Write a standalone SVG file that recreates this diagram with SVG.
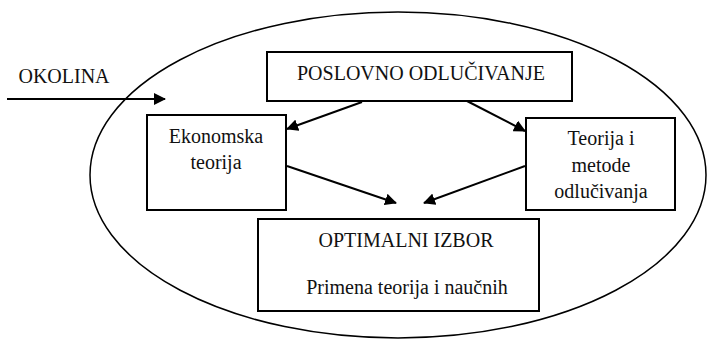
<svg xmlns="http://www.w3.org/2000/svg" width="715" height="341" viewBox="0 0 715 341">
<style>
.t{font-size:20px;fill:#111;text-anchor:middle}
.box{fill:#fff;stroke:#000;stroke-width:2}
.con{stroke:#000;stroke-width:2;fill:none;marker-end:url(#ah)}
</style>
<defs>
<marker id="ah" markerWidth="12" markerHeight="12" refX="11" refY="6" orient="auto" markerUnits="userSpaceOnUse">
<path d="M0,0 L12,6 L0,12 Z" fill="#000"/>
</marker>
</defs>
<rect width="715" height="341" fill="#fff"/>
<g font-family="Liberation Serif, Times New Roman, DejaVu Serif, serif">
<g id="okolina">
<ellipse cx="398" cy="175" rx="308" ry="163" fill="none" stroke="#000" stroke-width="1.5"/>
<text class="t" x="64" y="83">OKOLINA</text>
</g>
<g id="poslovno">
<rect class="box" x="267" y="52" width="305" height="49"/>
<text class="t" x="421" y="80">POSLOVNO ODLUČIVANJE</text>
</g>
<g id="ekonomska">
<rect class="box" x="147" y="115" width="139" height="95"/>
<text class="t" x="216" y="143">Ekonomska</text>
<text class="t" x="216" y="169">teorija</text>
</g>
<g id="teorija">
<rect class="box" x="526" y="118" width="149" height="92"/>
<text class="t" x="601" y="145">Teorija i</text>
<text class="t" x="601" y="172">metode</text>
<text class="t" x="601" y="198">odlučivanja</text>
</g>
<g id="optimalni">
<rect class="box" x="258" y="219" width="281" height="92"/>
<text class="t" x="406" y="247">OPTIMALNI IZBOR</text>
<text class="t" x="407" y="294">Primena teorija i naučnih</text>
</g>
</g>
<g id="connectors">
<line class="con" x1="7" y1="99" x2="165" y2="99"/>
<line class="con" x1="362" y1="102" x2="287" y2="129"/>
<line class="con" x1="467" y1="101" x2="525" y2="131"/>
<line class="con" x1="287" y1="166" x2="396" y2="203"/>
<line class="con" x1="525" y1="166" x2="424" y2="203"/>
</g>
</svg>
